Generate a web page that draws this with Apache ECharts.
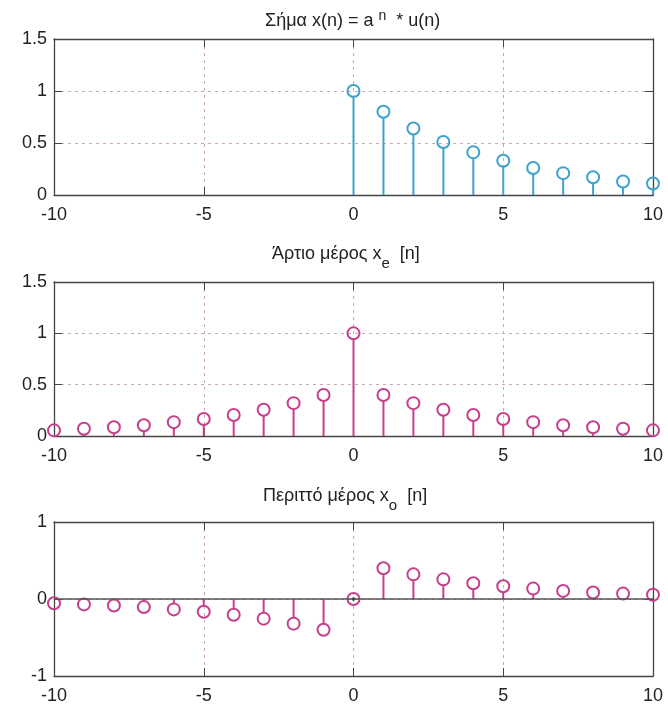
<!DOCTYPE html>
<html>
<head>
<meta charset="UTF-8">
<title>Σήμα και άρτιο / περιττό μέρος</title>
<script src="https://cdn.jsdelivr.net/npm/echarts@6/dist/echarts.min.js"></script>
</head>
<body style="margin:0;background:#fff;">
	<div id="main" style="width: 668px; height: 705px;"></div>

	<script type="text/javascript">
		// δείγματα n = -10 .. 10
		var nAll = [-10, -9, -8, -7, -6, -5, -4, -3, -2, -1, 0, 1, 2, 3, 4, 5, 6, 7, 8, 9, 10];
		var nPos = [0, 1, 2, 3, 4, 5, 6, 7, 8, 9, 10];

		// x(n) = a^n u(n)  (τιμές από το σχήμα)
		var xVals = [1, 0.8, 0.64, 0.51, 0.41, 0.33, 0.26, 0.21, 0.17, 0.13, 0.11];
		// άρτιο μέρος
		var xeVals = [0.055, 0.07, 0.085, 0.105, 0.135, 0.165, 0.205, 0.255, 0.32, 0.4, 1,
			0.4, 0.32, 0.255, 0.205, 0.165, 0.135, 0.105, 0.085, 0.07, 0.055];
		// περιττό μέρος
		var xoVals = [-0.055, -0.07, -0.085, -0.105, -0.135, -0.165, -0.205, -0.255, -0.32, -0.4, 0,
			0.4, 0.32, 0.255, 0.205, 0.165, 0.135, 0.105, 0.085, 0.07, 0.055];

		var blue = '#3ea2cb';
		var pink = '#c53f8d';
		var gridCol = '#c9a6b9';
		var frameCol = '#444';
		var font = 'Liberation Sans, Arial, sans-serif';

		function pairs(ns, vs) {
			var out = [];
			for (var i = 0; i < ns.length; i++) out.push([ns[i], vs[i]]);
			return out;
		}

		function stem(color) {
			return function (params, api) {
				var x = api.value(0), y = api.value(1);
				var r = 6;
				var p0 = api.coord([x, 0]);
				var p1 = api.coord([x, y]);
				var kids = [];
				var len = Math.abs(p1[1] - p0[1]);
				if (len > r) {
					var dir = p1[1] < p0[1] ? 1 : -1;
					kids.push({
						type : 'line',
						shape : { x1 : p0[0], y1 : p0[1], x2 : p1[0], y2 : p1[1] + dir * r },
						style : { stroke : color, lineWidth : 2 }
					});
				}
				kids.push({
					type : 'circle',
					shape : { cx : p1[0], cy : p1[1], r : r },
					style : { fill : 'none', stroke : color, lineWidth : 2 }
				});
				if (y === 0 && params.seriesIndex === 2) {
					kids.push({
						type : 'circle',
						shape : { cx : p1[0], cy : p1[1], r : 1.8 },
						style : { fill : '#223' }
					});
				}
				return { type : 'group', children : kids };
			};
		}

		var grids = [
			{ left : 54, right : 15, top : 39, height : 156 },
			{ left : 54, right : 15, top : 282, height : 154 },
			{ left : 54, right : 15, top : 522, height : 154 }
		];
		var yRanges = [[0, 1.5, 0.5], [0, 1.5, 0.5], [-1, 1, 1]];

		var xAxes = [], yAxes = [];
		for (var g = 0; g < 3; g++) {
			xAxes.push({
				gridIndex : g, type : 'value', min : -10, max : 10, interval : 5,
				position : 'bottom',
				axisLine : { onZero : false, lineStyle : { color : frameCol, width : 1.3 } },
				axisTick : { inside : true, length : 8, lineStyle : { color : frameCol } },
				axisLabel : { margin : 11, fontSize : 18, color : '#222', fontFamily : font },
				splitLine : { show : true, lineStyle : { color : gridCol, type : [3, 4], width : 1 } }
			});
			xAxes.push({
				gridIndex : g, type : 'value', min : -10, max : 10, interval : 5,
				position : 'top',
				axisLine : { onZero : false, lineStyle : { color : frameCol, width : 1.3 } },
				axisTick : { inside : true, length : 8, lineStyle : { color : frameCol } },
				axisLabel : { show : false },
				splitLine : { show : false }
			});
			yAxes.push({
				gridIndex : g, type : 'value', min : yRanges[g][0], max : yRanges[g][1], interval : yRanges[g][2],
				position : 'left',
				axisLine : { show : true, onZero : false, lineStyle : { color : frameCol, width : 1.3 } },
				axisTick : { show : true, inside : true, length : 8, lineStyle : { color : frameCol } },
				axisLabel : { margin : 7, fontSize : 18, color : '#222', fontFamily : font },
				splitLine : { show : true, lineStyle : { color : gridCol, type : [3, 4], width : 1 } }
			});
			yAxes.push({
				gridIndex : g, type : 'value', min : yRanges[g][0], max : yRanges[g][1], interval : yRanges[g][2],
				position : 'right',
				axisLine : { show : true, onZero : false, lineStyle : { color : frameCol, width : 1.3 } },
				axisTick : { show : true, inside : true, length : 8, lineStyle : { color : frameCol } },
				axisLabel : { show : false },
				splitLine : { show : false }
			});
		}

		var rich = {
			t : { fontSize : 18, fontWeight : 'normal', color : '#222', fontFamily : font, lineHeight : 24 },
			sup : { fontSize : 14, fontWeight : 'normal', color : '#222', fontFamily : font, lineHeight : 24, verticalAlign : 'top' },
			sub : { fontSize : 15, fontWeight : 'normal', color : '#222', fontFamily : font, lineHeight : 24, verticalAlign : 'bottom', padding : [0, 0, -5, 0] }
		};

		function ttl(text, left, top) {
			return { text : text, left : left, top : top, padding : 0,
				textStyle : { fontWeight : 'normal', rich : rich } };
		}

		var myChart = echarts.init(document.getElementById('main'));
		myChart.setOption({
			animation : false,
			title : [
				ttl('{t|Σήμα x(n) = a }{sup|n}{t|  * u(n)}', 265, 9),
				ttl('{t|Άρτιο μέρος x}{sub|e}{t|  [n]}', 272, 242),
				ttl('{t|Περιττό μέρος x}{sub|o}{t|  [n]}', 263, 484)
			],
			grid : grids,
			xAxis : xAxes,
			yAxis : yAxes,
			series : [ {
				type : 'custom', xAxisIndex : 0, yAxisIndex : 0,
				renderItem : stem(blue), data : pairs(nPos, xVals)
			}, {
				type : 'custom', xAxisIndex : 2, yAxisIndex : 2,
				renderItem : stem(pink), data : pairs(nAll, xeVals)
			}, {
				type : 'custom', xAxisIndex : 4, yAxisIndex : 4,
				renderItem : stem(pink), data : pairs(nAll, xoVals),
				markLine : {
					silent : true, symbol : 'none', label : { show : false },
					lineStyle : { color : '#555', type : 'solid', width : 1.5 },
					data : [ { yAxis : 0 } ]
				}
			} ]
		});
	</script>
</body>
</html>
